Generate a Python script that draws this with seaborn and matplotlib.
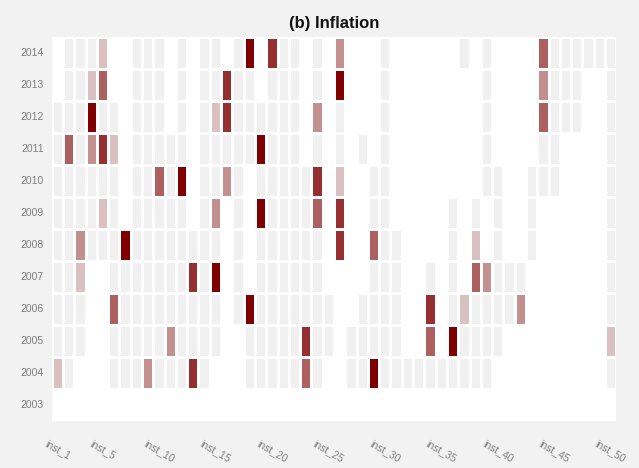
import numpy as np
import pandas as pd
import matplotlib
matplotlib.use("Agg")
import matplotlib.pyplot as plt
from matplotlib.colors import LinearSegmentedColormap
import seaborn as sns

N = np.nan

years = [2014, 2013, 2012, 2011, 2010, 2009, 2008, 2007, 2006, 2005, 2004, 2003]
instruments = [f"inst_{i}" for i in range(1, 51)]
tick_instruments = ["inst_1", "inst_5", "inst_10", "inst_15", "inst_20",
                    "inst_25", "inst_30", "inst_35", "inst_40", "inst_45", "inst_50"]

# intensity score per instrument (0 = in force, blank = not in force)
v2014 = [N,0,0,0,1,N,N,0,0,0, N,0,N,0,0,N,0,5,N,4, 0,0,N,0,N,2,N,N,N,0,
         N,N,N,N,N,N,0,N,0,N, N,N,N,3,0,0,0,0,0,0]
v2013 = [N,0,0,1,3,N,N,0,0,0, N,0,N,0,0,4,0,0,N,0, 0,0,N,0,N,5,N,N,N,0,
         N,N,N,N,N,N,N,N,0,N, N,N,N,2,0,0,0,N,N,0]
v2012 = [0,0,0,5,0,0,N,0,0,0, N,0,N,0,1,4,0,0,0,0, 0,0,N,2,N,0,N,N,N,0,
         N,N,N,N,N,N,N,N,0,N, N,N,N,3,0,0,0,N,N,0]
v2011 = [0,3,0,2,4,1,N,0,0,0, 0,0,N,0,0,0,0,0,5,0, 0,0,N,0,N,0,N,0,N,0,
         N,N,N,N,N,N,N,N,0,N, N,N,N,0,0,N,N,N,N,0]
v2010 = [0,0,0,0,0,0,N,0,0,3, 0,5,N,0,0,2,0,N,0,0, 0,0,0,4,N,1,N,N,0,0,
         N,N,N,N,N,N,N,N,0,0, N,N,0,0,0,N,N,N,N,0]
v2009 = [0,0,0,0,1,0,N,0,0,0, 0,0,N,0,2,N,0,N,5,0, 0,0,0,3,N,4,N,N,0,0,
         N,N,N,N,N,0,N,0,N,0, N,N,0,N,N,N,N,N,N,0]
v2008 = [0,0,2,0,0,0,5,0,0,0, 0,0,0,0,0,N,0,N,0,0, 0,0,0,0,N,4,N,N,3,0,
         0,N,N,N,N,0,N,1,N,0, N,N,0,N,N,N,N,N,N,0]
v2007 = [0,0,1,N,N,0,0,0,0,0, 0,0,4,0,5,N,0,N,0,0, 0,0,0,0,N,N,N,N,0,0,
         0,N,N,0,N,0,N,3,2,0, 0,0,N,N,N,N,N,N,N,0]
v2006 = [0,0,0,N,N,3,0,0,0,0, 0,0,0,0,0,N,0,5,0,0, 0,0,0,0,0,N,N,0,0,0,
         0,N,N,4,N,0,1,0,0,0, 0,2,N,N,N,N,N,N,N,0]
v2005 = [0,0,0,N,N,0,0,0,0,0, 2,0,0,0,0,N,N,0,0,0, 0,0,4,0,0,N,0,0,0,0,
         0,N,N,3,N,5,0,0,0,0, N,N,N,N,N,N,N,N,N,1]
v2004 = [1,0,N,N,N,0,0,0,2,0, 0,0,4,0,N,N,N,0,0,0, 0,0,3,0,N,N,0,0,5,0,
         0,0,0,0,0,0,0,0,0,N, N,N,N,N,N,N,N,N,N,0]
v2003 = [N] * 50

rows = [v2014, v2013, v2012, v2011, v2010, v2009, v2008, v2007, v2006, v2005, v2004, v2003]
data = pd.DataFrame(rows, index=years, columns=instruments, dtype=float)

cmap = LinearSegmentedColormap.from_list("grey_maroon", ["#f0f0f0", "#800000"])

fig = plt.figure(figsize=(6.39, 4.68), dpi=100, facecolor="#f2f2f2")
ax = fig.add_axes([0.0809, 0.1011, 0.8836, 0.8192])
ax.set_facecolor("white")

sns.heatmap(data, ax=ax, cmap=cmap, vmin=0, vmax=5, cbar=False,
            linewidths=0.8, linecolor="white",
            xticklabels=False, yticklabels=[str(y) for y in years])

tick_pos = [instruments.index(t) + 0.5 for t in tick_instruments]
ax.set_xticks(tick_pos)
ax.set_xticklabels(tick_instruments, rotation=-30, ha="center", va="top",
                   fontsize=7.5, color="#808080", family="Liberation Sans")
ax.set_yticklabels([str(y) for y in years], rotation=0, fontsize=7.5,
                   color="#808080", family="Liberation Sans")
ax.tick_params(axis="x", length=0, pad=13)
ax.tick_params(axis="y", length=0, pad=5.5)
ax.set_xlabel("")
ax.set_ylabel("")

ax.set_title("(b) Inflation", fontsize=12, fontweight="bold",
             family="Liberation Sans", color="#111111", pad=7)

fig.savefig("out.png", dpi=100, facecolor=fig.get_facecolor())
